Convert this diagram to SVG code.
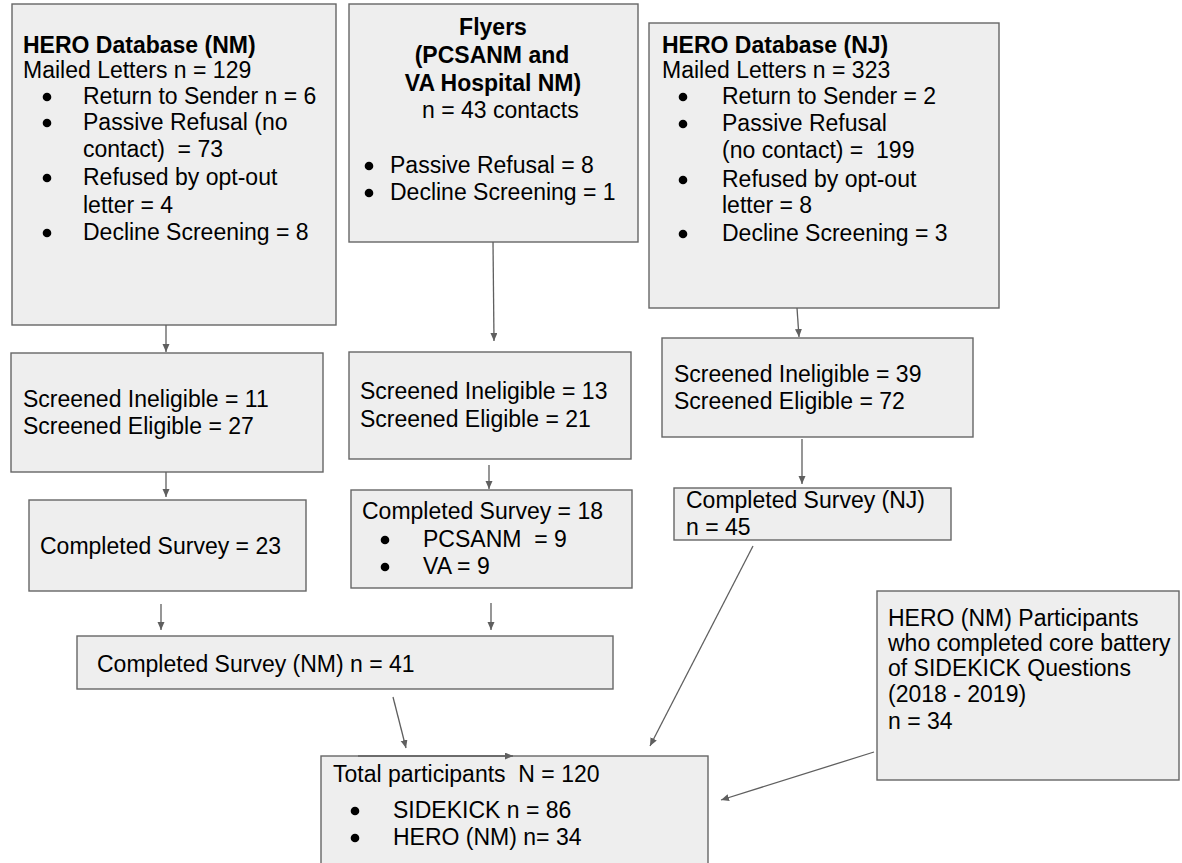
<svg xmlns="http://www.w3.org/2000/svg" width="1182" height="863" viewBox="0 0 1182 863">
<style>
.box{fill:#eeeeee;stroke:#666666;stroke-width:1.4}
text{font-family:"Liberation Sans",Arial,sans-serif;font-size:23px;fill:#000;white-space:pre}
.b{font-weight:bold}
.c{text-anchor:middle}
.dot{fill:#000}
.conn line{stroke:#5f5f5f;stroke-width:1.3;marker-end:url(#ah)}
</style>
<defs>
<marker id="ah" markerUnits="userSpaceOnUse" markerWidth="9" markerHeight="8" refX="8" refY="3.5" orient="auto">
<path d="M0,0 L8,3.5 L0,7 z" fill="#5f5f5f"/>
</marker>
</defs>
<rect width="1182" height="863" fill="#ffffff"/>

<g id="hero-nm">
<rect class="box" x="12" y="4" width="324" height="321"/>
<text class="b" x="23" y="53">HERO Database (NM)</text>
<text x="23" y="78">Mailed Letters n = 129</text>
<circle class="dot" cx="47" cy="97" r="4.3"/>
<text x="83" y="104">Return to Sender n = 6</text>
<circle class="dot" cx="47" cy="123" r="4.3"/>
<text x="83" y="130">Passive Refusal (no</text>
<text x="83" y="157">contact)  = 73</text>
<circle class="dot" cx="47" cy="178" r="4.3"/>
<text x="83" y="185">Refused by opt-out</text>
<text x="83" y="213">letter = 4</text>
<circle class="dot" cx="47" cy="233" r="4.3"/>
<text x="83" y="240">Decline Screening = 8</text>
</g>

<g id="flyers">
<rect class="box" x="349" y="4" width="289" height="238"/>
<text class="b c" x="493" y="35">Flyers</text>
<text class="b c" x="492" y="63">(PCSANM and</text>
<text class="b c" x="493" y="91">VA Hospital NM)</text>
<text x="422" y="118">n = 43 contacts</text>
<circle class="dot" cx="369" cy="166" r="4.3"/>
<text x="390" y="173">Passive Refusal = 8</text>
<circle class="dot" cx="369" cy="193" r="4.3"/>
<text x="390" y="200">Decline Screening = 1</text>
</g>

<g id="hero-nj">
<rect class="box" x="649" y="23" width="350" height="285"/>
<text class="b" x="662" y="53">HERO Database (NJ)</text>
<text x="662" y="78">Mailed Letters n = 323</text>
<circle class="dot" cx="683" cy="97" r="4.3"/>
<text x="722" y="104">Return to Sender = 2</text>
<circle class="dot" cx="683" cy="124" r="4.3"/>
<text x="722" y="131">Passive Refusal</text>
<text x="722" y="158">(no contact) =  199</text>
<circle class="dot" cx="683" cy="180" r="4.3"/>
<text x="722" y="187">Refused by opt-out</text>
<text x="722" y="213">letter = 8</text>
<circle class="dot" cx="683" cy="234" r="4.3"/>
<text x="722" y="241">Decline Screening = 3</text>
</g>

<g id="screened-nm">
<rect class="box" x="11" y="353" width="312" height="119"/>
<text x="23" y="407">Screened Ineligible = 11</text>
<text x="23" y="434">Screened Eligible = 27</text>
</g>

<g id="screened-flyers">
<rect class="box" x="349" y="352" width="282" height="107"/>
<text x="360" y="399">Screened Ineligible = 13</text>
<text x="360" y="427">Screened Eligible = 21</text>
</g>

<g id="screened-nj">
<rect class="box" x="662" y="338" width="311" height="99"/>
<text x="674" y="382">Screened Ineligible = 39</text>
<text x="674" y="409">Screened Eligible = 72</text>
</g>

<g id="completed-nm-hero">
<rect class="box" x="29" y="500" width="277" height="91"/>
<text x="40" y="554">Completed Survey = 23</text>
</g>

<g id="completed-flyers">
<rect class="box" x="351" y="490" width="281" height="98"/>
<text x="362" y="519">Completed Survey = 18</text>
<circle class="dot" cx="385" cy="540" r="4.3"/>
<text x="423" y="547">PCSANM  = 9</text>
<circle class="dot" cx="385" cy="567" r="4.3"/>
<text x="423" y="574">VA = 9</text>
</g>

<g id="completed-nj">
<rect class="box" x="674" y="488" width="277" height="52"/>
<text x="686" y="508">Completed Survey (NJ)</text>
<text x="686" y="535">n = 45</text>
</g>

<g id="completed-nm">
<rect class="box" x="77" y="636" width="536" height="53"/>
<text x="97" y="672">Completed Survey (NM) n = 41</text>
</g>

<g id="hero-participants">
<rect class="box" x="877" y="591" width="302" height="189"/>
<text x="888" y="626">HERO (NM) Participants</text>
<text x="888" y="651">who completed core battery</text>
<text x="888" y="676">of SIDEKICK Questions</text>
<text x="888" y="702">(2018 - 2019)</text>
<text x="888" y="729">n = 34</text>
</g>

<g id="total">
<rect class="box" x="321" y="756" width="387" height="130"/>
<text x="333" y="782">Total participants  N = 120</text>
<circle class="dot" cx="355" cy="811" r="4.3"/>
<text x="393" y="818">SIDEKICK n = 86</text>
<circle class="dot" cx="355" cy="838" r="4.3"/>
<text x="393" y="845">HERO (NM) n= 34</text>
</g>

<g id="connectors" class="conn">
<line x1="166" y1="325" x2="166" y2="352"/>
<line x1="493" y1="242" x2="494" y2="341"/>
<line x1="797" y1="308" x2="799" y2="337"/>
<line x1="166" y1="472" x2="166" y2="497"/>
<line x1="489" y1="465" x2="489" y2="489"/>
<line x1="802" y1="439" x2="802" y2="484"/>
<line x1="161" y1="604" x2="161" y2="630"/>
<line x1="491" y1="603" x2="491" y2="630"/>
<line x1="393" y1="697" x2="406" y2="748"/>
<line x1="753" y1="546" x2="650" y2="746"/>
<line x1="874" y1="752" x2="721" y2="800"/>
<line x1="358" y1="756" x2="513" y2="756"/>
</g>
</svg>
